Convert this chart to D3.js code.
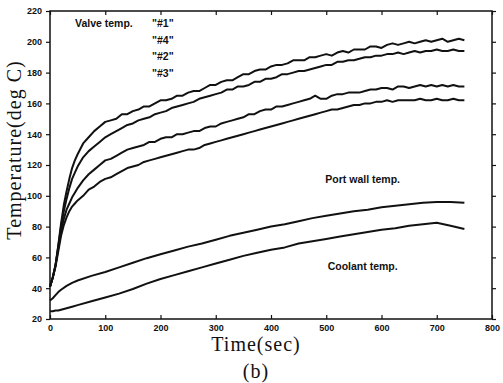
<!DOCTYPE html>
<html>
<head>
<meta charset="utf-8">
<script src="https://cdn.jsdelivr.net/npm/d3@7"></script>
<style>
  html, body { margin: 0; padding: 0; background: #fff; }
  svg { display: block; }
  .tick-lbl { font-family: "Liberation Sans", Arial, sans-serif; font-weight: bold; font-size: 9px; fill: #111; }
  .note { font-family: "Liberation Sans", Arial, sans-serif; font-weight: bold; font-size: 10.5px; fill: #111; }
  .ax-title { font-family: "Liberation Serif", "DejaVu Serif", serif; font-size: 20px; fill: #111; letter-spacing: 1px; }
</style>
</head>
<body>
<svg id="chart" width="503" height="383"></svg>
<script>
// ── Data ────────────────────────────────────────────────────────────────────
// time base for the four valve traces (sec)
const tValve = [0, 5, 10, 15, 20, 25, 30, 35, 40, 45, 50,
  60, 70, 80, 90, 100, 110, 120, 130, 140, 150,
  160, 170, 180, 190, 200, 210, 220, 230, 240, 250,
  260, 270, 280, 290, 300, 310, 320, 330, 340, 350,
  360, 370, 380, 390, 400, 410, 420, 430, 440, 450,
  460, 470, 480, 490, 500, 510, 520, 530, 540, 550,
  560, 570, 580, 590, 600, 610, 620, 630, 640, 650,
  660, 670, 680, 690, 700, 710, 720, 730, 740, 750];

const valve1 = [41, 47, 55, 68, 82, 94, 103, 111, 118, 123, 127,
  134, 138, 142, 145, 148, 149, 150, 153, 153, 155,
  156, 158, 158, 160, 162, 162, 163, 165, 165, 167,
  168, 168, 170, 172, 172, 174, 175, 175, 177, 179,
  179, 181, 182, 182, 184, 185, 185, 186, 188, 188,
  188, 190, 190, 191, 192, 191, 193, 194, 193, 195,
  195, 195, 197, 197, 196, 198, 199, 198, 199, 200,
  199, 200, 201, 200, 201, 202, 200, 201, 202, 201];

const valve4 = [41, 47, 55, 67, 80, 90, 98, 105, 111, 115, 119,
  125, 129, 132, 135, 138, 140, 142, 144, 146, 147,
  149, 150, 151, 153, 154, 155, 157, 158, 159, 160,
  161, 163, 164, 165, 166, 167, 169, 169, 171, 171,
  172, 174, 174, 176, 176, 177, 179, 179, 180, 181,
  181, 182, 183, 184, 185, 185, 187, 187, 188, 188,
  189, 190, 190, 191, 191, 192, 192, 193, 192, 193,
  194, 193, 194, 194, 195, 194, 194, 195, 194, 194];

const valve2 = [41, 47, 55, 66, 77, 85, 91, 95, 99, 102, 105,
  110, 114, 117, 120, 123, 124, 126, 128, 130, 131,
  132, 133, 135, 135, 137, 138, 138, 140, 140, 141,
  142, 142, 144, 145, 145, 147, 148, 149, 150, 151,
  153, 153, 155, 156, 156, 158, 158, 159, 160, 161,
  162, 163, 165, 163, 163, 165, 166, 166, 167, 167,
  167, 168, 169, 169, 170, 170, 169, 171, 171, 170,
  171, 172, 171, 172, 171, 172, 171, 172, 171, 171];

const valve3 = [41, 47, 54, 64, 74, 81, 86, 90, 93, 95, 97,
  100, 104, 106, 109, 111, 112, 114, 116, 118, 119,
  120, 122, 123, 124, 125, 126, 127, 128, 129, 130,
  130, 131, 133, 134, 135, 136, 137, 138, 139, 140,
  141, 142, 143, 144, 145, 146, 147, 148, 149, 150,
  151, 152, 153, 154, 155, 156, 156, 157, 158, 159,
  159, 160, 160, 161, 161, 162, 161, 162, 162, 162,
  162, 163, 162, 162, 163, 162, 162, 163, 162, 162];

// time base for the two slower traces (sec)
const tSlow = [0, 5, 10, 15, 20, 30, 40, 50, 75, 100, 125, 150, 175, 200,
  225, 250, 275, 300, 325, 350, 375, 400, 425, 450, 475, 500,
  525, 550, 575, 600, 625, 650, 675, 700, 725, 750];

const portWall = [32, 33.5, 35.5, 37.5, 39, 41.5, 43.5, 45, 48, 50.5, 53.5, 56.5, 59.5, 62,
  64.5, 67, 69, 71.5, 74, 76, 78, 80, 81.5, 83.5, 85.5, 87,
  88.5, 90, 91, 92.5, 93.5, 94.5, 95.5, 96, 96, 95.5];

const coolant = [25, 25, 25.5, 25.5, 26, 27, 28, 29, 31.5, 34, 36.5, 39.5, 43, 46,
  48.5, 51, 53.5, 56, 58.5, 61, 63, 65, 66.5, 69, 70.5, 72,
  73.5, 75, 76.5, 78, 79, 80.5, 81.5, 82.5, 80.5, 78.5];

const xTicks = [0, 100, 200, 300, 400, 500, 600, 700, 800];
const yTicks = [20, 40, 60, 80, 100, 120, 140, 160, 180, 200, 220];

const valveLabels = ['"#1"', '"#4"', '"#2"', '"#3"'];

// ── Layout ──────────────────────────────────────────────────────────────────
const M = { top: 11, right: 11, bottom: 64, left: 50 };
const VW = 503, VH = 383;
const W = VW - M.left - M.right;
const H = VH - M.top - M.bottom;

const svg = d3.select("#chart");
const g = svg.append("g").attr("transform", `translate(${M.left},${M.top})`);

const x = d3.scaleLinear().domain([0, 800]).range([0, W]);
const y = d3.scaleLinear().domain([20, 220]).range([H, 0]);

// Frame
g.append("rect").attr("width", W).attr("height", H)
  .attr("fill", "none").attr("stroke", "#111").attr("stroke-width", 1.5);

// Left axis: outward ticks + labels
const axL = g.append("g").call(d3.axisLeft(y).tickValues(yTicks).tickSize(4).tickPadding(4));
axL.select(".domain").remove();
axL.selectAll("line").attr("stroke", "#111").attr("stroke-width", 1.2);
axL.selectAll("text").attr("class", "tick-lbl").attr("fill", null).attr("font-size", null).attr("font-family", null);

// Right axis: inward ticks
const axR = g.append("g").attr("transform", `translate(${W},0)`)
  .call(d3.axisLeft(y).tickValues(yTicks).tickSize(-4).tickFormat(""));
axR.select(".domain").remove();
axR.selectAll("line").attr("stroke", "#111").attr("stroke-width", 1.2);

// Bottom axis: inward ticks, labels below
const axB = g.append("g").attr("transform", `translate(0,${H})`)
  .call(d3.axisBottom(x).tickValues(xTicks).tickSize(-4).tickPadding(6));
axB.select(".domain").remove();
axB.selectAll("line").attr("stroke", "#111").attr("stroke-width", 1.2);
axB.selectAll("text").attr("class", "tick-lbl").attr("fill", null).attr("font-size", null).attr("font-family", null);

// Top axis: inward ticks
const axT = g.append("g")
  .call(d3.axisTop(x).tickValues(xTicks).tickSize(-4).tickFormat(""));
axT.select(".domain").remove();
axT.selectAll("line").attr("stroke", "#111").attr("stroke-width", 1.2);

// Traces
const line = d3.line().x(d => x(d[0])).y(d => y(d[1]));
const series = [
  [tValve, valve1], [tValve, valve4], [tValve, valve2], [tValve, valve3],
  [tSlow, portWall], [tSlow, coolant]
];
g.selectAll("path.trace")
  .data(series)
  .join("path")
  .attr("class", "trace")
  .attr("d", ([t, v]) => line(d3.zip(t, v)))
  .attr("fill", "none")
  .attr("stroke", "#111")
  .attr("stroke-width", 2)
  .attr("stroke-linejoin", "round");

// Annotations
g.append("text").attr("class", "note").attr("x", 25).attr("y", 16).text("Valve temp.");
g.selectAll("text.vlbl")
  .data(valveLabels)
  .join("text")
  .attr("class", "note vlbl")
  .attr("x", 102)
  .attr("y", (d, i) => 16 + i * 16.5)
  .text(d => d);
g.append("text").attr("class", "note").attr("x", x(566)).attr("y", y(108))
  .attr("text-anchor", "middle").attr("font-size", "10px").text("Port wall temp.");
g.append("text").attr("class", "note").attr("x", x(566)).attr("y", y(52))
  .attr("text-anchor", "middle").attr("font-size", "10px").text("Coolant temp.");

// Axis titles
svg.append("text").attr("class", "ax-title")
  .attr("x", 256).attr("y", 351).attr("text-anchor", "middle")
  .attr("font-size", "21px").text("Time(sec)");
svg.append("text").attr("class", "ax-title")
  .attr("x", 256).attr("y", 378).attr("text-anchor", "middle")
  .attr("letter-spacing", "4px").text("(b)");
svg.append("text").attr("class", "ax-title")
  .attr("transform", "translate(21,150) rotate(-90)")
  .attr("text-anchor", "middle").text("Temperature(deg C)");
</script>
</body>
</html>
